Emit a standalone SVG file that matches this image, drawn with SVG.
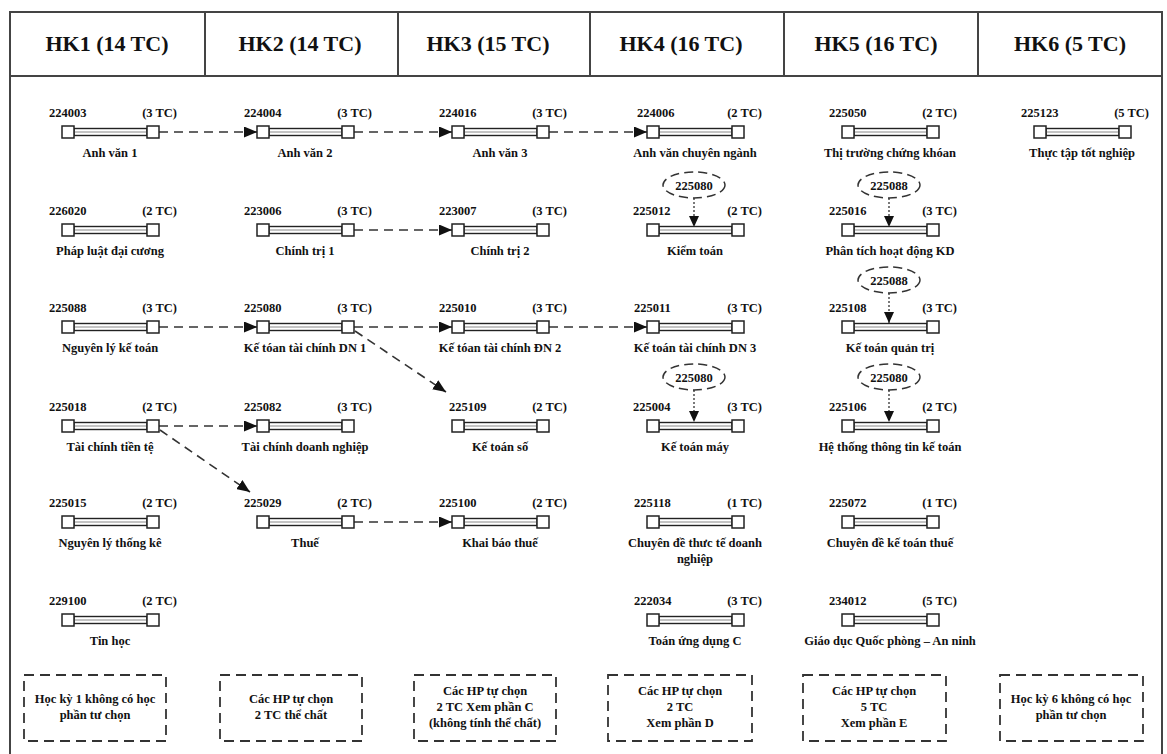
<svg xmlns="http://www.w3.org/2000/svg" width="1167" height="754" viewBox="0 0 1167 754">
<style>
text{font-family:"Liberation Serif","Times New Roman",serif;font-weight:bold;fill:#111}
.hd{font-size:22px;text-anchor:middle}
.t{font-size:12.5px}
.e{text-anchor:end}
.m{text-anchor:middle}
.sq{fill:#fff;stroke:#222;stroke-width:1.5}
.bar{fill:#fff;stroke:#222;stroke-width:1.4}
.bl{stroke:#888;stroke-width:1}
.frame{fill:none;stroke:#444;stroke-width:2}
.dash{fill:none;stroke:#333;stroke-width:1.6;stroke-dasharray:9 6}
.dot{fill:none;stroke:#333;stroke-width:1.3;stroke-dasharray:2 2}
.ell{fill:#fff;stroke:#333;stroke-width:1.5;stroke-dasharray:9 5}
.box{fill:#fff;stroke:#333;stroke-width:1.8;stroke-dasharray:10 6}
</style>
<defs>
<marker id="ah" markerUnits="userSpaceOnUse" markerWidth="13" markerHeight="11" refX="13" refY="5.5" orient="auto"><path d="M0,0 L13,5.5 L0,11 z" fill="#111"/></marker>
<marker id="ahs" markerUnits="userSpaceOnUse" markerWidth="11" markerHeight="10" refX="11" refY="5" orient="auto"><path d="M0,0 L11,5 L0,10 z" fill="#111"/></marker>
<g id="course"><rect class="bar" x="12" y="2.5" width="73" height="7"/><line class="bl" x1="12" y1="6" x2="85" y2="6"/><rect class="sq" x="0" y="0" width="12" height="12"/><rect class="sq" x="85" y="0" width="12" height="12"/></g>
</defs>
<rect width="1167" height="754" fill="#fff"/>
<g id="frame">
<path class="frame" d="M10,760 V12 H1162 V760"/>
<line x1="10" y1="76" x2="1162" y2="76" stroke="#444" stroke-width="2"/>
<g stroke="#444" stroke-width="2"><line x1="205" y1="12" x2="205" y2="76"/><line x1="398" y1="12" x2="398" y2="76"/><line x1="590" y1="12" x2="590" y2="76"/><line x1="784" y1="12" x2="784" y2="76"/><line x1="978" y1="12" x2="978" y2="76"/></g>
<text class="hd" x="107" y="51">HK1 (14 TC)</text>
<text class="hd" x="300" y="51">HK2 (14 TC)</text>
<text class="hd" x="488" y="51">HK3 (15 TC)</text>
<text class="hd" x="681" y="51">HK4 (16 TC)</text>
<text class="hd" x="876" y="51">HK5 (16 TC)</text>
<text class="hd" x="1070" y="51">HK6 (5 TC)</text>
</g>
<g id="connectors">
<line class="dash" x1="159" y1="132" x2="257" y2="132" marker-end="url(#ah)"/>
<line class="dash" x1="354" y1="132" x2="452" y2="132" marker-end="url(#ah)"/>
<line class="dash" x1="549" y1="132" x2="647" y2="132" marker-end="url(#ah)"/>
<line class="dash" x1="354" y1="230" x2="452" y2="230" marker-end="url(#ah)"/>
<line class="dash" x1="159" y1="327" x2="257" y2="327" marker-end="url(#ah)"/>
<line class="dash" x1="354" y1="327" x2="452" y2="327" marker-end="url(#ah)"/>
<line class="dash" x1="549" y1="327" x2="647" y2="327" marker-end="url(#ah)"/>
<line class="dash" x1="159" y1="426" x2="257" y2="426" marker-end="url(#ah)"/>
<line class="dash" x1="354" y1="522" x2="452" y2="522" marker-end="url(#ah)"/>
<line class="dash" x1="355" y1="331" x2="446" y2="392" marker-end="url(#ah)"/>
<line class="dash" x1="160" y1="430" x2="250" y2="492" marker-end="url(#ah)"/>
<line class="dot" x1="694" y1="198" x2="694" y2="227" marker-end="url(#ahs)"/>
<line class="dot" x1="694" y1="390" x2="694" y2="422" marker-end="url(#ahs)"/>
<line class="dot" x1="889" y1="198" x2="889" y2="227" marker-end="url(#ahs)"/>
<line class="dot" x1="889" y1="293" x2="889" y2="323" marker-end="url(#ahs)"/>
<line class="dot" x1="889" y1="390" x2="889" y2="422" marker-end="url(#ahs)"/>
</g>
<g id="prereqs">
<g id="p1"><ellipse class="ell" cx="694" cy="185" rx="31" ry="13"/><text class="t m" x="694" y="189.5">225080</text></g>
<g id="p2"><ellipse class="ell" cx="694" cy="377" rx="31" ry="13"/><text class="t m" x="694" y="381.5">225080</text></g>
<g id="p3"><ellipse class="ell" cx="889" cy="185" rx="31" ry="13"/><text class="t m" x="889" y="189.5">225088</text></g>
<g id="p4"><ellipse class="ell" cx="889" cy="280" rx="31" ry="13"/><text class="t m" x="889" y="284.5">225088</text></g>
<g id="p5"><ellipse class="ell" cx="889" cy="377" rx="31" ry="13"/><text class="t m" x="889" y="381.5">225080</text></g>
</g>
<!-- HK1 -->
<g id="n224003" transform="translate(62,126)"><use href="#course"/><text class="t" x="-13" y="-9">224003</text><text class="t e" x="115" y="-9">(3 TC)</text><text class="t m" x="48" y="31">Anh văn 1</text></g>
<g id="n226020" transform="translate(62,224)"><use href="#course"/><text class="t" x="-13" y="-9">226020</text><text class="t e" x="115" y="-9">(2 TC)</text><text class="t m" x="48" y="31">Pháp luật đại cương</text></g>
<g id="n225088" transform="translate(62,321)"><use href="#course"/><text class="t" x="-13" y="-9">225088</text><text class="t e" x="115" y="-9">(3 TC)</text><text class="t m" x="48" y="31">Nguyên lý kế toán</text></g>
<g id="n225018" transform="translate(62,420)"><use href="#course"/><text class="t" x="-13" y="-9">225018</text><text class="t e" x="115" y="-9">(2 TC)</text><text class="t m" x="48" y="31">Tài chính tiền tệ</text></g>
<g id="n225015" transform="translate(62,516)"><use href="#course"/><text class="t" x="-13" y="-9">225015</text><text class="t e" x="115" y="-9">(2 TC)</text><text class="t m" x="48" y="31">Nguyên lý thống kê</text></g>
<g id="n229100" transform="translate(62,614)"><use href="#course"/><text class="t" x="-13" y="-9">229100</text><text class="t e" x="115" y="-9">(2 TC)</text><text class="t m" x="48" y="31">Tin học</text></g>
<!-- HK2 -->
<g id="n224004" transform="translate(257,126)"><use href="#course"/><text class="t" x="-13" y="-9">224004</text><text class="t e" x="115" y="-9">(3 TC)</text><text class="t m" x="48" y="31">Anh văn 2</text></g>
<g id="n223006" transform="translate(257,224)"><use href="#course"/><text class="t" x="-13" y="-9">223006</text><text class="t e" x="115" y="-9">(3 TC)</text><text class="t m" x="48" y="31">Chính trị 1</text></g>
<g id="n225080" transform="translate(257,321)"><use href="#course"/><text class="t" x="-13" y="-9">225080</text><text class="t e" x="115" y="-9">(3 TC)</text><text class="t m" x="48" y="31">Kế tóan tài chính DN 1</text></g>
<g id="n225082" transform="translate(257,420)"><use href="#course"/><text class="t" x="-13" y="-9">225082</text><text class="t e" x="115" y="-9">(3 TC)</text><text class="t m" x="48" y="31">Tài chính doanh nghiệp</text></g>
<g id="n225029" transform="translate(257,516)"><use href="#course"/><text class="t" x="-13" y="-9">225029</text><text class="t e" x="115" y="-9">(2 TC)</text><text class="t m" x="48" y="31">Thuế</text></g>
<!-- HK3 -->
<g id="n224016" transform="translate(452,126)"><use href="#course"/><text class="t" x="-13" y="-9">224016</text><text class="t e" x="115" y="-9">(3 TC)</text><text class="t m" x="48" y="31">Anh văn 3</text></g>
<g id="n223007" transform="translate(452,224)"><use href="#course"/><text class="t" x="-13" y="-9">223007</text><text class="t e" x="115" y="-9">(3 TC)</text><text class="t m" x="48" y="31">Chính trị 2</text></g>
<g id="n225010" transform="translate(452,321)"><use href="#course"/><text class="t" x="-13" y="-9">225010</text><text class="t e" x="115" y="-9">(3 TC)</text><text class="t m" x="48" y="31">Kế tóan tài chính ĐN 2</text></g>
<g id="n225109" transform="translate(452,420)"><use href="#course"/><text class="t" x="-3" y="-9">225109</text><text class="t e" x="115" y="-9">(2 TC)</text><text class="t m" x="48" y="31">Kế toán số</text></g>
<g id="n225100" transform="translate(452,516)"><use href="#course"/><text class="t" x="-13" y="-9">225100</text><text class="t e" x="115" y="-9">(2 TC)</text><text class="t m" x="48" y="31">Khai báo thuế</text></g>
<!-- HK4 -->
<g id="n224006" transform="translate(647,126)"><use href="#course"/><text class="t" x="-10" y="-9">224006</text><text class="t e" x="115" y="-9">(2 TC)</text><text class="t m" x="48" y="31">Anh văn chuyên ngành</text></g>
<g id="n225012" transform="translate(647,224)"><use href="#course"/><text class="t" x="-14" y="-9">225012</text><text class="t e" x="115" y="-9">(2 TC)</text><text class="t m" x="48" y="31">Kiểm toán</text></g>
<g id="n225011" transform="translate(647,321)"><use href="#course"/><text class="t" x="-13" y="-9">225011</text><text class="t e" x="115" y="-9">(3 TC)</text><text class="t m" x="48" y="31">Kế toán tài chính DN 3</text></g>
<g id="n225004" transform="translate(647,420)"><use href="#course"/><text class="t" x="-14" y="-9">225004</text><text class="t e" x="115" y="-9">(3 TC)</text><text class="t m" x="48" y="31">Kế toán máy</text></g>
<g id="n225118" transform="translate(647,516)"><use href="#course"/><text class="t" x="-13" y="-9">225118</text><text class="t e" x="115" y="-9">(1 TC)</text><text class="t m" x="48" y="31">Chuyên đề thưc tế doanh</text><text class="t m" x="48" y="47">nghiệp</text></g>
<g id="n222034" transform="translate(647,614)"><use href="#course"/><text class="t" x="-13" y="-9">222034</text><text class="t e" x="115" y="-9">(3 TC)</text><text class="t m" x="48" y="31">Toán ứng dụng C</text></g>
<!-- HK5 -->
<g id="n225050" transform="translate(842,126)"><use href="#course"/><text class="t" x="-13" y="-9">225050</text><text class="t e" x="115" y="-9">(2 TC)</text><text class="t m" x="48" y="31">Thị trường chứng khóan</text></g>
<g id="n225016" transform="translate(842,224)"><use href="#course"/><text class="t" x="-13" y="-9">225016</text><text class="t e" x="115" y="-9">(3 TC)</text><text class="t m" x="48" y="31">Phân tích hoạt động KD</text></g>
<g id="n225108" transform="translate(842,321)"><use href="#course"/><text class="t" x="-13" y="-9">225108</text><text class="t e" x="115" y="-9">(3 TC)</text><text class="t m" x="48" y="31">Kế toán quản trị</text></g>
<g id="n225106" transform="translate(842,420)"><use href="#course"/><text class="t" x="-13" y="-9">225106</text><text class="t e" x="115" y="-9">(2 TC)</text><text class="t m" x="48" y="31">Hệ thống thông tin kế toán</text></g>
<g id="n225072" transform="translate(842,516)"><use href="#course"/><text class="t" x="-13" y="-9">225072</text><text class="t e" x="115" y="-9">(1 TC)</text><text class="t m" x="48" y="31">Chuyên đề kế toán thuế</text></g>
<g id="n234012" transform="translate(842,614)"><use href="#course"/><text class="t" x="-13" y="-9">234012</text><text class="t e" x="115" y="-9">(5 TC)</text><text class="t m" x="48" y="31">Giáo dục Quốc phòng – An ninh</text></g>
<!-- HK6 -->
<g id="n225123" transform="translate(1034,126)"><use href="#course"/><text class="t" x="-13" y="-9">225123</text><text class="t e" x="115" y="-9">(5 TC)</text><text class="t m" x="48" y="31">Thực tập tốt nghiệp</text></g>
<!-- elective boxes -->
<g id="box1"><rect class="box" x="24" y="675" width="142" height="66"/><text class="t m" x="95" y="703">Học kỳ 1 không có học</text><text class="t m" x="95" y="719">phần tư chọn</text></g>
<g id="box2"><rect class="box" x="220" y="675" width="142" height="66"/><text class="t m" x="291" y="703">Các HP tự chọn</text><text class="t m" x="291" y="719">2 TC thể chất</text></g>
<g id="box3"><rect class="box" x="414" y="675" width="142" height="66"/><text class="t m" x="485" y="695">Các HP tự chọn</text><text class="t m" x="485" y="711">2 TC Xem phần C</text><text class="t m" x="485" y="727">(không tính thể chất)</text></g>
<g id="box4"><rect class="box" x="608" y="675" width="144" height="66"/><text class="t m" x="680" y="695">Các HP tự chọn</text><text class="t m" x="680" y="711">2 TC</text><text class="t m" x="680" y="727">Xem phần D</text></g>
<g id="box5"><rect class="box" x="803" y="675" width="143" height="66"/><text class="t m" x="874" y="695">Các HP tự chọn</text><text class="t m" x="874" y="711">5 TC</text><text class="t m" x="874" y="727">Xem phần E</text></g>
<g id="box6"><rect class="box" x="1000" y="675" width="143" height="66"/><text class="t m" x="1071" y="703">Học kỳ 6 không có học</text><text class="t m" x="1071" y="719">phần tư chọn</text></g>
</svg>
